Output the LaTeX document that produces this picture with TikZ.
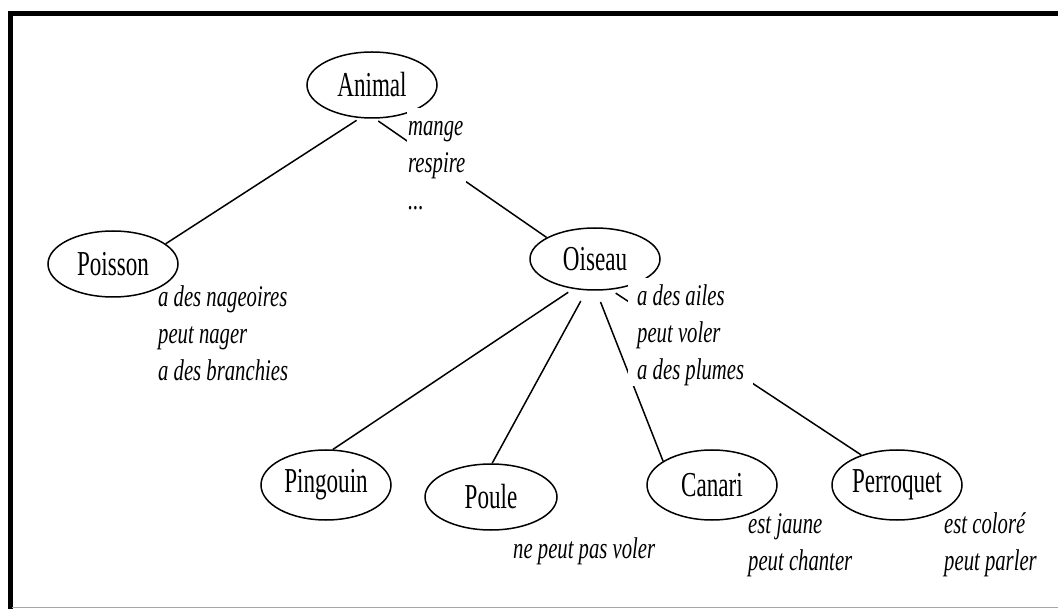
\documentclass[tikz,border=0pt]{standalone}
\usepackage{fontspec}
\setmainfont{Liberation Serif}
\newfontfamily\nodefont[FakeStretch=0.66]{Liberation Serif}
\newfontfamily\notefont[FakeStretch=0.69]{Liberation Serif}
\usetikzlibrary{shapes.geometric,backgrounds}
\begin{document}
\begin{tikzpicture}[x=1pt,y=-1pt,
  concept/.style={ellipse,draw,line width=1.5pt,minimum width=130pt,minimum height=66pt,
    inner sep=0pt,font=\nodefont\fontsize{35}{37}\selectfont},
  note/.style={anchor=north west,align=left,inner sep=1pt,
    font=\notefont\itshape\fontsize{30}{37}\selectfont},
  mask/.style={fill=white},
  link/.style={line width=1.5pt,shorten <=4pt}]
\useasboundingbox (0,0) rectangle (1058,609);

% frame
\draw[line width=4.5pt,line join=miter] (10.5,609) -- (10.5,13.5) -- (1058,13.5);
\draw[black!35,line width=1pt] (12,607.5) -- (1058,607.5);

% concepts
\node[concept] (animal) at (372,85) {Animal};
\node[concept] (poisson) at (113,264) {Poisson};
\node[concept,minimum height=62pt] (oiseau) at (595,259) {Oiseau};
\node[concept,minimum height=70pt] (pingouin) at (326,485) {Pingouin};
\node[concept,minimum width=132pt] (poule) at (491,497) {Poule};
\node[concept,minimum height=70pt] (canari) at (712,485) {Canari};
\node[concept,minimum height=70pt] (perroquet) at (897,485) {Perroquet};

% properties (position = first baseline minus strut height)
\node[note,mask] (pAnimal) at (407,108) {\strut mange\\respire\\...};
\node[note] (pPoisson) at (157,279) {\strut a des nageoires\\peut nager\\a des branchies};
\node[note,mask,inner xsep=9pt] (pOiseau) at (628,278) {\strut a des ailes\\peut voler\\a des plumes};
\node[note] (pPoule) at (512,531) {\strut ne peut pas voler};
\node[note] (pCanari) at (747,506) {\strut est jaune\\peut chanter};
\node[note] (pPerroquet) at (943,506) {\strut est coloré\\peut parler};

% hierarchy links
\begin{scope}[on background layer]
\draw[link] (animal.250) -- (poisson.21);
\draw[link] (animal.275) -- (oiseau.156);
\draw[link,shorten <=6pt] (oiseau.234) -- (pingouin.79);
\draw[link,shorten <=12pt] (oiseau.255) -- (poule.88);
\draw[link,shorten <=12pt] (oiseau.272) -- (canari.154);
\draw[link,shorten <=6pt] (oiseau.297) -- (perroquet.140);
\end{scope}
\end{tikzpicture}
\end{document}
